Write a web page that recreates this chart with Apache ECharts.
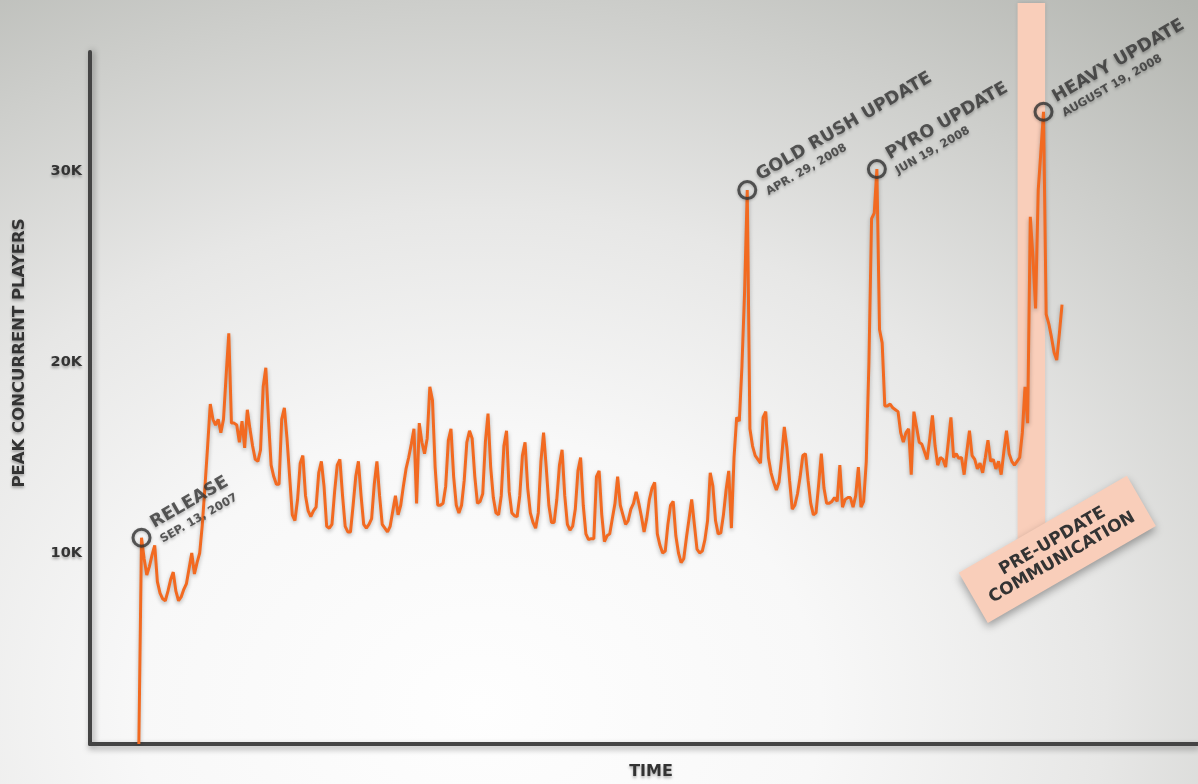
<!DOCTYPE html>
<html>
<head>
<meta charset="utf-8">
<script src="https://cdn.jsdelivr.net/npm/echarts@6/dist/echarts.min.js"></script>
<style>
  html, body { margin: 0; padding: 0; width: 1198px; height: 784px; overflow: hidden; }
  #chart {
    width: 1198px; height: 784px;
    background: radial-gradient(ellipse 95% 115% at 40% 90%, #fefefe 0%, #f8f8f8 30%, #e7e7e6 55%, #cdcecb 78%, #b3b5b0 100%);
  }
</style>
</head>
<body>
<div id="chart"></div>
<script>
// Daily peak concurrent players, starting the day before release
const firstDay = '2007-09-12';
const players = [
  0,
  10800, 9700, 8850, 9300, 9900, 10400, 8500, 7900, 7600, 7500,
  8000, 8600, 9000, 8000, 7500, 7700, 8100, 8400, 9200, 10000,
  8900, 9500, 10000, 11500, 13500, 15600, 17800, 17000, 16700, 17000,
  16300, 17000, 19300, 21500, 16800, 16800, 16700, 15800, 16900, 15500,
  17500, 16500, 15600, 14900, 14800, 15400, 18700, 19700, 17000, 14600,
  14000, 13600, 13600, 17000, 17600, 16000, 14000, 12000, 11700, 12800,
  14700, 15100, 13000, 12200, 11900, 12200, 12400, 14200, 14800, 13500,
  11400, 11300, 11500, 13200, 14600, 14900, 13000, 11400, 11100, 11100,
  12500, 14000, 14800, 13000, 11500, 11300, 11500, 11800, 13600, 14800,
  13000, 11500, 11300, 11100, 11400, 12200, 13000, 12000, 12500, 13500,
  14400, 15000, 15700, 16500, 12600, 16800, 15800, 15200, 16000, 18700,
  18000, 14500, 12500, 12500, 12600, 13500, 15900, 16500, 14000, 12500,
  12100, 12500, 13800, 15800, 16400, 16000, 14000, 12600, 12700, 13100,
  15800, 17300, 14500, 12900, 12100, 12000, 13000, 15600, 16400, 13200,
  12100, 11950, 11900, 13000, 15100, 15800, 13400, 12100, 11600, 11300,
  12100, 14800, 16300, 14500, 12500, 11600, 11600, 12800, 14600, 15400,
  13000, 11500, 11200, 11400, 12300, 14300, 15000, 12500, 11000, 10700,
  10750, 10750, 14000, 14300, 12000, 10600, 10900, 11000, 11800, 12600,
  14000, 12500, 12000, 11500, 11700, 12300, 12600, 13200, 12600, 11900,
  11100, 11800, 12800, 13400, 13700, 11000, 10400, 10000, 10100, 11500,
  12500, 12700, 10900, 10000, 9500, 9700, 10800, 11800, 12800, 11500,
  10200, 10000, 10100, 10700, 11700, 14200, 13500, 11700, 11000, 11050,
  12000, 13300, 14300, 11300, 15000, 17100, 16900, 19800, 23700, 29000,
  16500, 15600, 15100, 14900, 14700, 17100, 17400, 15000, 14200, 13700,
  13300, 13700, 15000, 16600, 15500, 13800, 12300, 12500, 13100, 14000,
  15100, 15200, 13800, 12600, 12000, 12100, 13600, 15200, 13400, 12600,
  12600, 12700, 12900, 12700, 14600, 12400, 12800, 12900, 12900, 12400,
  13000, 14500, 12400, 12700, 14800, 20000, 27500, 27800, 30100, 21700,
  21000, 17700, 17700, 17800, 17600, 17500, 17400, 16300, 15800, 16300,
  16500, 14100, 17400, 16600, 15800, 15700, 15300, 14900, 16000, 17200,
  15600, 14600, 15000, 14900, 14500, 15800, 17100, 15000, 15200, 14950,
  15000, 14100, 15300, 16400, 15100, 14900, 14400, 14700, 14200, 15000,
  15900, 14800, 14900, 14400, 14800, 14100, 15300, 16400, 15200, 14800,
  14600, 14800, 15000, 16300, 18700, 16800, 27600, 25500, 22800, 29000,
  31000, 33100, 22500, 22000, 21300, 20500, 20100, 21500, 23000
];

// Circled milestones
const eventTitles = ['RELEASE', 'GOLD RUSH UPDATE', 'PYRO UPDATE', 'HEAVY UPDATE'];
const eventSubtitles = ['SEP. 13, 2007', 'APR. 29, 2008', 'JUN 19, 2008', 'AUGUST 19, 2008'];
const eventDays = ['2007-09-13', '2008-04-29', '2008-06-17', '2008-08-19'];

// Highlighted window before the Heavy update
const preUpdateRange = ['2008-08-09T04:48:00Z', '2008-08-19T14:24:00Z'];
const preUpdateText = 'PRE-UPDATE\nCOMMUNICATION';

// Y axis ticks
const yTicks = [10000, 20000, 30000];
const yTickLabels = ['10K', '20K', '30K'];

const DAY = 86400000;
const t0 = Date.parse(firstDay + 'T00:00:00Z');
const seriesData = players.map((v, i) => [t0 + i * DAY, v]);

const ink = '#333333';
const orange = '#f26a21';
const salmon = '#f9ceba';
const font = '"DejaVu Sans", Lato, sans-serif';
const shadow = { textShadowColor: 'rgba(0,0,0,0.32)', textShadowBlur: 3, textShadowOffsetY: 2 };

const xMin = t0 - 18.47 * DAY;
const xMax = t0 + 400.4 * DAY;

const eventData = eventDays.map((d, i) => {
  const idx = Math.round((Date.parse(d + 'T00:00:00Z') - t0) / DAY);
  return {
    value: [t0 + idx * DAY, players[idx]],
    label: { formatter: '{t|' + eventTitles[i] + '}\n{s|' + eventSubtitles[i] + '}' }
  };
});

const chart = echarts.init(document.getElementById('chart'), null, { renderer: 'canvas' });

chart.setOption({
  backgroundColor: 'transparent',
  animation: false,
  textStyle: { fontFamily: font },
  grid: [
    { left: 90, right: 0, top: 52, bottom: 40, containLabel: false, outerBoundsMode: 'none' },
    { left: 90, right: 0, top: 3, bottom: 40, containLabel: false, outerBoundsMode: 'none' }
  ],
  xAxis: [
    {
      type: 'time', gridIndex: 0, min: xMin, max: xMax,
      name: 'TIME', nameLocation: 'middle', nameGap: 20,
      nameTextStyle: Object.assign({ color: ink, fontFamily: font, fontSize: 16, fontWeight: 'bold', padding: [0, 0, 0, 14] }, shadow),
      axisLine: { lineStyle: { color: '#444', width: 4, shadowColor: 'rgba(0,0,0,0.35)', shadowBlur: 6, shadowOffsetY: 3 } },
      axisTick: { show: false }, axisLabel: { show: false }, splitLine: { show: false }
    },
    {
      type: 'time', gridIndex: 1, min: xMin, max: xMax, show: false
    }
  ],
  yAxis: [
    {
      type: 'value', gridIndex: 0, min: 0, max: 36230, interval: 10000,
      name: 'PEAK CONCURRENT PLAYERS', nameLocation: 'middle', nameGap: 62,
      nameTextStyle: Object.assign({ color: ink, fontFamily: font, fontSize: 16.5, fontWeight: 'bold', padding: [0, 0, 0, 90] }, shadow),
      axisLine: { show: true, lineStyle: { color: '#444', width: 4, shadowColor: 'rgba(0,0,0,0.35)', shadowBlur: 6, shadowOffsetX: 2 } },
      axisTick: { show: false }, splitLine: { show: false },
      axisLabel: Object.assign({
        color: ink, fontFamily: font, fontSize: 14.5, fontWeight: 'bold', margin: 8, showMaxLabel: false,
        formatter: v => { const k = yTicks.indexOf(v); return k < 0 ? '' : yTickLabels[k]; }
      }, shadow)
    },
    { type: 'value', gridIndex: 1, min: 0, max: 38800, show: false }
  ],
  series: [
    {
      name: 'Pre-update communication', type: 'line', xAxisIndex: 1, yAxisIndex: 1,
      data: [], silent: true, z: 1,
      markArea: {
        silent: true,
        itemStyle: { color: salmon, shadowColor: 'rgba(0,0,0,0.15)', shadowBlur: 4 },
        label: {
          show: true, formatter: preUpdateText, position: ['50%', '100%'],
          align: 'center', verticalAlign: 'middle', rotate: 30, offset: [30, 0],
          color: ink, fontFamily: font, fontSize: 17, fontWeight: 'bold', lineHeight: 19,
          backgroundColor: salmon, padding: [10, 14, 10, 14],
          shadowColor: 'rgba(0,0,0,0.35)', shadowBlur: 8, shadowOffsetY: 4
        },
        data: [[
          { xAxis: Date.parse(preUpdateRange[0]), yAxis: 9400 },
          { xAxis: Date.parse(preUpdateRange[1]), yAxis: 38800 }
        ]]
      }
    },
    {
      name: 'Peak concurrent players', type: 'line', xAxisIndex: 0, yAxisIndex: 0,
      data: seriesData, showSymbol: false, z: 3,
      lineStyle: { color: orange, width: 3, shadowColor: 'rgba(0,0,0,0.28)', shadowBlur: 4, shadowOffsetY: 2 },
      itemStyle: { color: orange }
    },
    {
      name: 'Milestones', type: 'scatter', xAxisIndex: 0, yAxisIndex: 0,
      data: eventData, z: 4, symbol: 'circle', symbolSize: 17,
      itemStyle: { color: 'rgba(0,0,0,0)', borderColor: ink, borderWidth: 3, shadowColor: 'rgba(0,0,0,0.3)', shadowBlur: 3, shadowOffsetY: 1 },
      label: {
        show: true, position: 'right', distance: 6, rotate: 30, offset: [2, -6],
        align: 'left', verticalAlign: 'middle',
        rich: {
          t: Object.assign({ color: ink, fontFamily: font, fontSize: 17.5, fontWeight: 'bold', lineHeight: 20, padding: [0, 0, 3, 0] }, shadow),
          s: Object.assign({ color: ink, fontFamily: font, fontSize: 11.5, fontWeight: 'bold', lineHeight: 14 }, shadow)
        }
      }
    }
  ]
});
</script>
</body>
</html>
